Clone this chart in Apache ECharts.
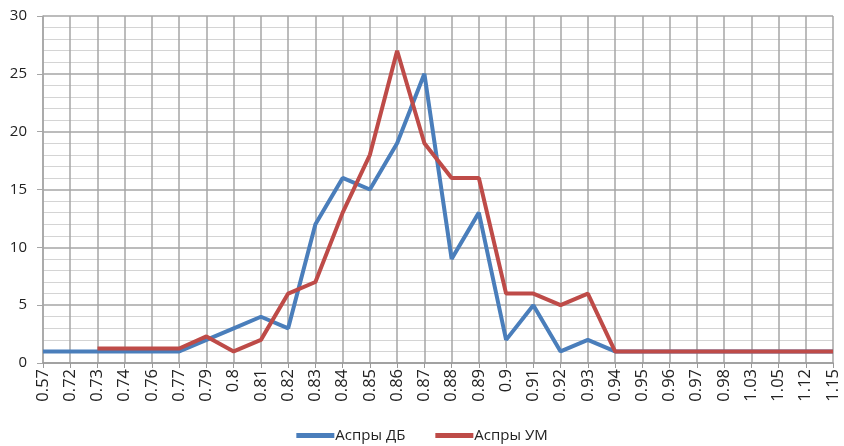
<!DOCTYPE html>
<html><head><meta charset="utf-8">
<script src="https://cdn.jsdelivr.net/npm/echarts@6/dist/echarts.min.js"></script>
<style>html,body{margin:0;padding:0;background:#fff}#c{width:844px;height:446px}</style>
</head><body><div id="c"></div>
<script>
const categories = ['0.57','0.72','0.73','0.74','0.76','0.77','0.79','0.8','0.81','0.82','0.83','0.84','0.85','0.86','0.87','0.88','0.89','0.9','0.91','0.92','0.93','0.94','0.95','0.96','0.97','0.98','1.03','1.05','1.12','1.15'];
const seriesDB = [1,1,1,1,1,1,2,3,4,3,12,16,15,19,25,9,13,2,5,1,2,1,1,1,1,1,1,1,1,1];
const seriesUM = [null,null,1.25,1.25,1.25,1.25,2.3,1,2,6,7,13,18,27,19,16,16,6,6,5,6,1,1,1,1,1,1,1,1,1];
const nameDB = 'Аспры ДБ';
const nameUM = 'Аспры УМ';

const chart = echarts.init(document.getElementById('c'));
chart.setOption({
  animation: false,
  textStyle: {fontFamily: 'Open Sans, Liberation Sans, Arial, sans-serif'},
  grid: {left: 43, right: 11, top: 16, bottom: 83},
  legend: {
    top: 423, left: 'center', itemWidth: 38, itemHeight: 5, itemGap: 30,
    icon: 'rect',
    textStyle: {fontSize: 15, color: '#222', padding: [0,0,0,-4]},
    data: [nameDB, nameUM]
  },
  xAxis: {
    type: 'category', data: categories, boundaryGap: false,
    axisLine: {lineStyle: {color: '#999', width: 1.5}},
    axisTick: {show: true, length: 5, lineStyle: {color: '#999'}},
    axisLabel: {rotate: 90, fontSize: 16.5, color: '#222', margin: 6, interval: 0},
    splitLine: {show: true, lineStyle: {color: '#a6a6a6', width: 1.5}}
  },
  yAxis: {
    type: 'value', min: 0, max: 30, interval: 5,
    axisLine: {show: true, lineStyle: {color: '#a6a6a6', width: 1.5}},
    axisTick: {show: true, length: 6, lineStyle: {color: '#a6a6a6'}},
    axisLabel: {fontSize: 15, color: '#222', margin: 16},
    splitLine: {show: true, lineStyle: {color: '#a6a6a6', width: 1.5}},
    minorTick: {show: false, splitNumber: 5},
    minorSplitLine: {show: true, lineStyle: {color: '#d4d4d4', width: 1.2}}
  },
  series: [
    {name: nameDB, type: 'line', data: seriesDB, symbol: 'none', connectNulls: false,
     lineStyle: {color: '#4a7ebb', width: 4}, itemStyle: {color: '#4a7ebb'}},
    {name: nameUM, type: 'line', data: seriesUM, symbol: 'none', connectNulls: false,
     lineStyle: {color: '#be4b48', width: 4}, itemStyle: {color: '#be4b48'}}
  ]
});
</script></body></html>
